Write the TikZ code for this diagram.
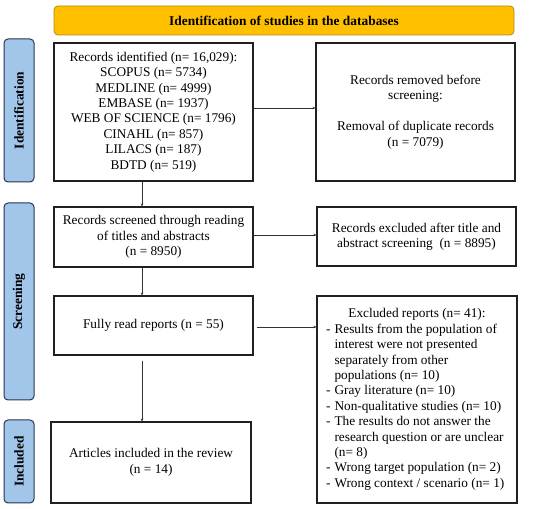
\documentclass[tikz,border=0pt]{standalone}
\usepackage{fontspec}
\setmainfont{Liberation Serif}
\usetikzlibrary{arrows.meta,calc}
\definecolor{bannerfill}{HTML}{FFC000}
\definecolor{bannerline}{HTML}{B08A10}
\definecolor{sidefill}{HTML}{A2C6EA}
\definecolor{sideline}{HTML}{2A3550}
\definecolor{boxline}{HTML}{202020}
\newcommand{\boxfont}{\fontsize{13.3}{15.4}\selectfont}
\tikzset{
  x=1pt,y=1pt,
  flowbox/.style={draw=boxline,line width=1.1pt,fill=white,align=center,inner sep=2pt,
    font=\boxfont},
  sidebar/.style={draw=sideline,line width=1pt,fill=sidefill,rounded corners=4pt,
    font=\fontsize{13.4}{14}\selectfont\bfseries,rotate=90,inner sep=0pt},
  banner/.style={draw=bannerline,line width=0.8pt,fill=bannerfill,rounded corners=4pt,
    minimum width=460pt,minimum height=29pt,font=\fontsize{13.4}{14}\selectfont\bfseries},
  flowarrow/.style={draw=black!80,line width=0.6pt,-{Stealth[length=3pt,width=2.5pt]}}
}
\begin{document}
\begin{tikzpicture}
\useasboundingbox (0,0) rectangle (550,509);
\fill[white] (0,0) rectangle (550,509);
\node[banner] (ban) at (284,488.5) {Identification of studies in the databases};

\node[sidebar,minimum width=143pt,minimum height=30pt] (sid) at (19,398.5) {Identification};
\node[sidebar,minimum width=197pt,minimum height=30pt] (sscr) at (19,207.5) {Screening};
\node[sidebar,minimum width=83pt,minimum height=30pt] (sinc) at (19,47.5) {Included};

\node[flowbox,minimum width=199pt,minimum height=138pt] (ident) at (153.5,397) {Records identified (n= 16,029):\\SCOPUS (n= 5734)\\MEDLINE (n= 4999)\\EMBASE (n= 1937)\\WEB OF SCIENCE (n= 1796)\\CINAHL (n= 857)\\LILACS (n= 187)\\BDTD (n= 519)};
\node[flowbox,minimum width=199pt,minimum height=138pt] (removed) at (415.5,397) {Records removed before\\screening:\\[15.4pt]Removal of duplicate records\\(n = 7079)};
\node[flowbox,minimum width=199pt,minimum height=60pt] (screened) at (153.5,272) {Records screened through reading\\of titles and abstracts\\(n = 8950)};
\node[flowbox,minimum width=199pt,minimum height=59pt] (excl1) at (416.5,272.5) {Records excluded after title and\\abstract screening~~(n = 8895)};
\node[flowbox,minimum width=199pt,minimum height=59pt] (full) at (153.5,183.5) {Fully read reports (n = 55)};
\node[flowbox,minimum width=200pt,minimum height=207pt] (excl2) at (417,109.5) {%
\begin{minipage}{183pt}\boxfont
\centering Excluded reports (n= 41):\par
\raggedright
\begin{list}{-}{\leftmargin=9pt\labelwidth=5pt\labelsep=4pt\itemsep=0pt\parsep=0pt\topsep=0pt\partopsep=0pt}
\item Results from the population of interest were not presented\\separately from other populations (n= 10)
\item Gray literature (n= 10)
\item Non-qualitative studies (n= 10)
\item The results do not answer the research question or are unclear\\(n= 8)
\item Wrong target population (n= 2)
\item Wrong context / scenario (n= 1)
\end{list}
\end{minipage}};
\node[flowbox,minimum width=200pt,minimum height=81pt] (incl) at (151,46.5) {Articles included in the review\\(n = 14)};

\coordinate (vx) at (142,0);
\draw[flowarrow] (ident.south -| vx) -- (screened.north -| vx);
\draw[flowarrow] (screened.south -| vx) -- (full.north -| vx);
\draw[flowarrow,shorten <=5pt] (full.south -| vx) -- (incl.north -| vx);
\draw[flowarrow] ([yshift=4pt]ident.east) -- ([yshift=4pt]ident.east -| removed.west);
\draw[flowarrow] ([yshift=2pt]screened.east) -- ([yshift=2pt]screened.east -| excl1.west);
\draw[flowarrow,shorten <=3pt] ([yshift=-1.5pt]full.east) -- ([yshift=-1.5pt]full.east -| excl2.west);
\end{tikzpicture}
\end{document}
